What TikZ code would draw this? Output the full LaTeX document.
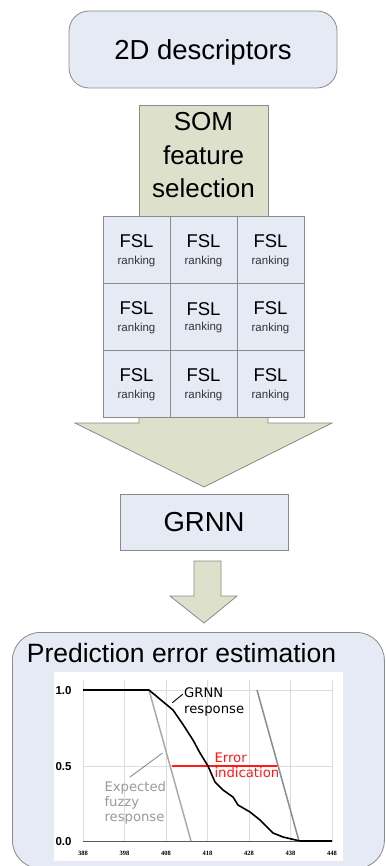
\documentclass[tikz,border=0pt]{standalone}
\usepackage{fontspec}
\setmainfont{Liberation Sans}
\newfontfamily\chartfont{DejaVu Sans}
\newfontfamily\tickfont{Liberation Serif}
\definecolor{boxblue}{HTML}{E5EAF5}
\definecolor{boxline}{HTML}{8A8A8A}
\definecolor{olivefill}{HTML}{DDE0CB}
\definecolor{gridgray}{HTML}{DCDCDC}
\definecolor{fuzzyA}{HTML}{AAAAAA}
\definecolor{fuzzyB}{HTML}{8C8C8C}
\definecolor{labelgray}{HTML}{9A9A9A}
\definecolor{errred}{HTML}{FF1A1A}
\tikzset{
  bluebox/.style={draw=boxline, fill=boxblue, line width=0.8pt},
  olivebox/.style={draw=boxline, fill=olivefill, line width=0.8pt},
  bigtext/.style={font=\fontsize{27.5}{33}\selectfont, text height=19.7pt, text depth=0pt},
  somtext/.style={font=\fontsize{26}{33}\selectfont, anchor=base, inner sep=0pt},
  fsltext/.style={font=\fontsize{18.5}{20}\selectfont, anchor=base, inner sep=0pt},
  ranktext/.style={font=\fontsize{11.5}{13}\selectfont, anchor=base, inner sep=0pt, text=black!80},
  charttext/.style={font=\chartfont\fontsize{13.2}{15}\selectfont, anchor=base west, inner sep=0pt},
  ticktext/.style={font=\tickfont\bfseries\fontsize{6.5}{7}\selectfont, inner sep=0pt},
  ytext/.style={font=\bfseries\fontsize{11.5}{12}\selectfont, inner sep=0pt, text height=8.3pt, text depth=0pt},
  gridline/.style={draw=gridgray, line width=0.8pt},
}
\begin{document}
\begin{tikzpicture}[x=1pt,y=-1pt]
\useasboundingbox (0,0) rectangle (385,866);
% top box
\node[bluebox, bigtext, rounded corners=20pt, minimum width=268pt, minimum height=77pt] (desc) at (203,49.5) {2D descriptors};
% SOM box
\node[olivebox, minimum width=129pt, minimum height=113pt, anchor=north] (som) at (203.5,105) {};
\node[somtext] (som1) at (203.5,131) {SOM};
\node[somtext] (som2) at (203.5,164.3) {feature};
\node[somtext] (som3) at (203.5,197.3) {selection};
% big arrow (behind grid)
\path[olivebox] (139,400) -- (268,400) -- (268,423) -- (332,423) -- (204,487) -- (75,423) -- (139,423) -- cycle;
% grid of FSL cells
\foreach \i in {0,1,2}{
  \foreach \j in {0,1,2}{
    \pgfmathsetmacro{\cx}{136.5+67*\i}
    \pgfmathsetmacro{\top}{216+67*\j}
    \node[bluebox, minimum width=67pt, minimum height=67pt] (cell-\i-\j) at (\cx,\top+33.5) {};
  }
}
\foreach \i in {0,1,2}{
  \foreach \j in {0,1,2}{
    \pgfmathsetmacro{\cx}{136.5+67*\i}
    \pgfmathsetmacro{\top}{216+67*\j}
    \ifnum\i=1 \ifnum\j=1
      \node[fsltext] (fsl-\i-\j) at (\cx,\top+32.6) {FSL};
      \node[ranktext] (rk-\i-\j) at (\cx,\top+47.2) {ranking};
    \else
      \node[fsltext] (fsl-\i-\j) at (\cx,\top+31.2) {FSL};
      \node[ranktext] (rk-\i-\j) at (\cx,\top+48.3) {ranking};
    \fi\else
      \node[fsltext] (fsl-\i-\j) at (\cx,\top+31.2) {FSL};
      \node[ranktext] (rk-\i-\j) at (\cx,\top+48.3) {ranking};
    \fi
  }
}
% GRNN
\node[bluebox, bigtext, minimum width=168pt, minimum height=56pt] (grnn) at (204,522) {GRNN};
% small arrow
\path[olivebox] (194,561) -- (221,561) -- (221,596) -- (237,596) -- (204,623) -- (170,596) -- (194,596) -- cycle;
% bottom box
\begin{scope}
\clip (0,0) rectangle (385,866);
\node[bluebox, rounded corners=28pt, minimum width=372pt, minimum height=236pt, anchor=north west] (pee) at (12,632) {};
\end{scope}
\node[font=\fontsize{26.5}{30}\selectfont, anchor=base, inner sep=0pt] (title) at (181.5,662.3) {Prediction error estimation};
% chart area
\fill[white] (54,672) rectangle (343,861);
\foreach \x in {83,124.5,166,207.5,249,290.5,332}{
  \draw[gridline] (\x,680) -- (\x,841);
}
\draw[gridline] (83,690) -- (332,690);
\draw[gridline] (83,766) -- (332,766);
\draw[draw=black!65, line width=1pt] (83,841) -- (332,841);
% tick labels
\foreach \x/\t in {83/388,124.5/398,166/408,207.5/418,249/428,290.5/438,332/448}{
  \node[ticktext] (tk\t) at (\x,853) {\t};
}
\node[ytext] (y10) at (63.5,690) {1.0};
\node[ytext] (y05) at (63.5,766) {0.5};
\node[ytext] (y00) at (63.5,841) {0.0};
% expected fuzzy response lines
\draw[fuzzyA, line width=1.5pt] (149,690) -- (191,841);
\draw[fuzzyB, line width=1.5pt] (257,690) -- (299,841);
% error indication
\draw[errred, line width=1.2pt] (172,766) -- (277,766);
% GRNN curve
\draw[black, line width=1.6pt, line join=round] (83,690) -- (149,690) -- (173,710) -- (182,723) -- (193,740) -- (200,753) -- (208,766) -- (215,782) -- (223,790) -- (233,797) -- (238,805) -- (250,812) -- (260,820) -- (273,833) -- (283,837) -- (300,841) -- (332,841);
% leaders
\draw[black, line width=0.9pt] (172.3,702.7) -- (182.7,694.3);
\draw[fuzzyB, line width=0.9pt] (162.5,753) -- (130,777);
% labels
\node[charttext] (g1) at (184,697.3) {GRNN};
\node[charttext] (g2) at (184,713.3) {response};
\node[charttext, text=errred] (e1) at (214.3,762.3) {Error};
\node[charttext, text=errred] (e2) at (214.3,777.6) {indication};
\node[charttext, text=labelgray] (x1) at (104.3,791) {Expected};
\node[charttext, text=labelgray] (x2) at (104.3,806) {fuzzy};
\node[charttext, text=labelgray] (x3) at (104.3,821) {response};
\end{tikzpicture}
\end{document}
